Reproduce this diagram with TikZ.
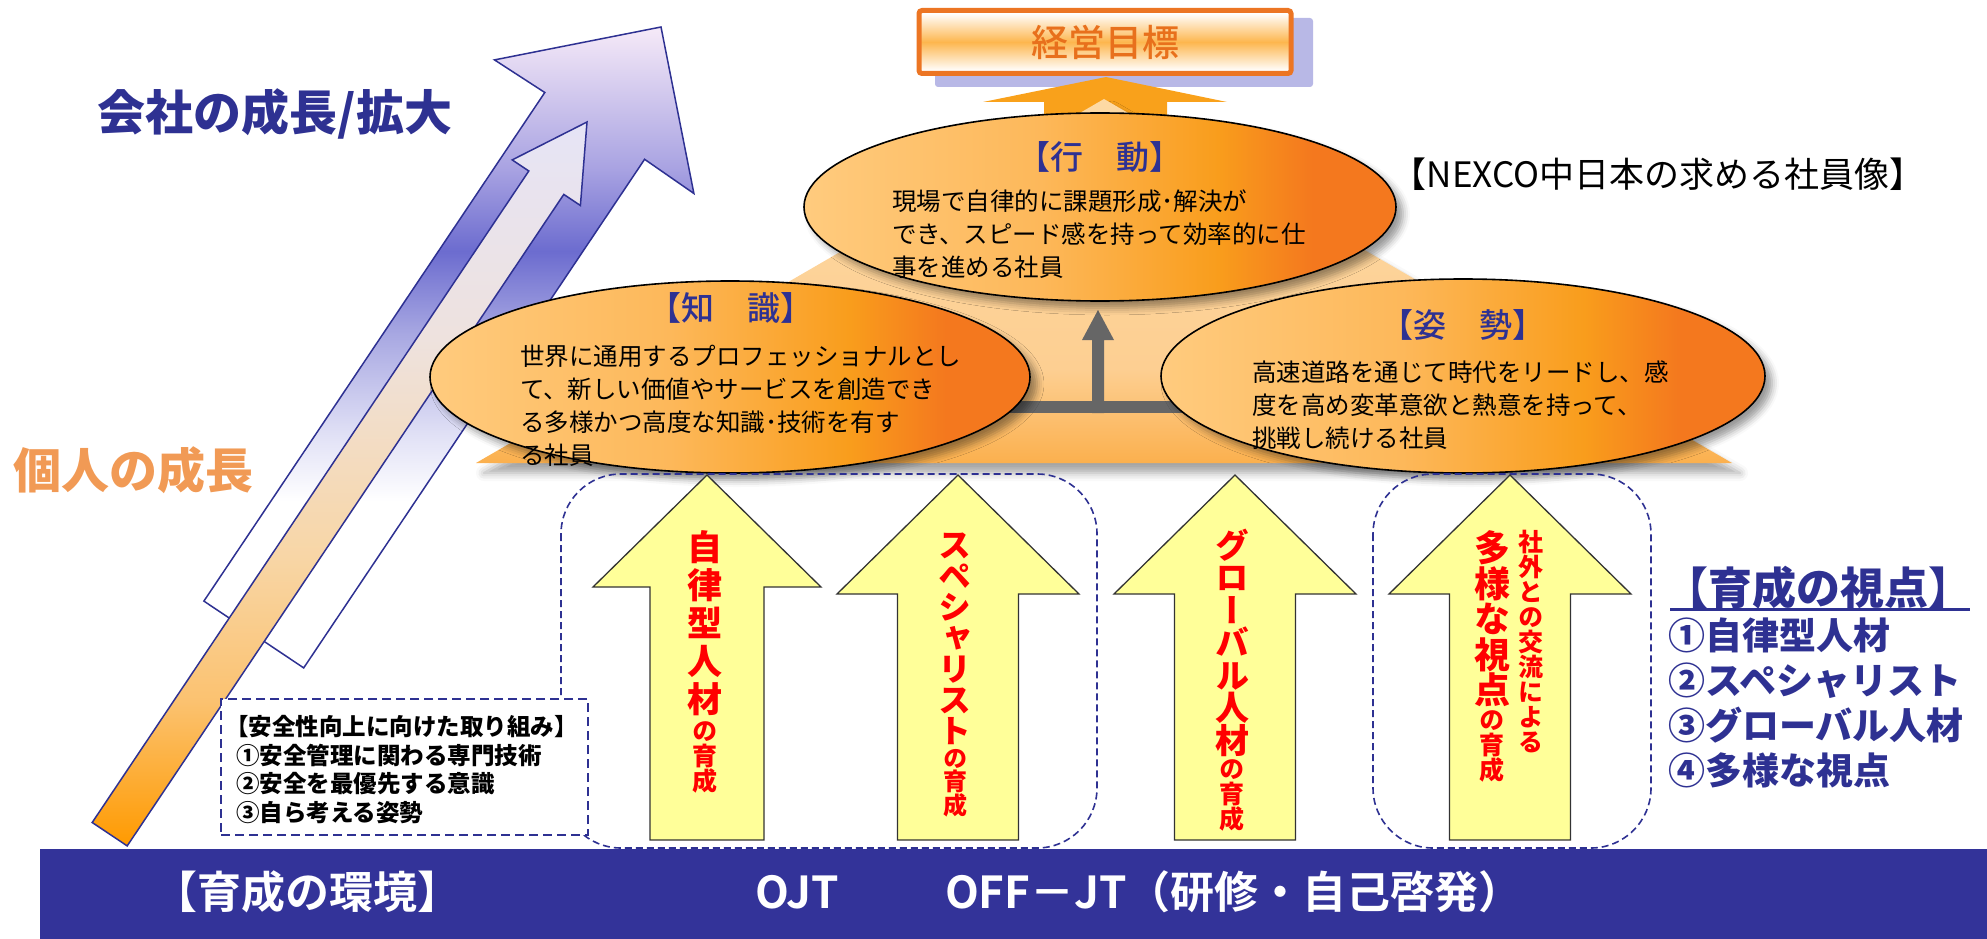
\documentclass[tikz,border=0pt]{standalone}
\usepackage{fontspec}
\newfontfamily\jp{Noto Sans CJK JP}
\newfontfamily\jpm{Noto Sans CJK JP Medium}
\newfontfamily\jpb{Noto Sans CJK JP Bold}
\newfontfamily\jpk{Noto Sans CJK JP Black}
\newfontfamily\jpkv{Noto Sans CJK JP Black}[RawFeature=+vert]
\usetikzlibrary{shapes.geometric,shadows.blur}

\definecolor{navy}{HTML}{2E3192}
\definecolor{barnavy}{HTML}{333399}
\definecolor{yel}{HTML}{FFFF99}
\definecolor{orgtxt}{HTML}{F19A55}
\definecolor{goalor}{HTML}{EC7523}
\definecolor{goaltxt}{HTML}{E8701C}
\definecolor{goalmid}{HTML}{FDB64E}
\definecolor{lav}{HTML}{B8B8E6}
\definecolor{arrowor}{HTML}{F9A11B}
\definecolor{eL}{HTML}{FFCB7E}
\definecolor{eL2}{HTML}{FDB85A}
\definecolor{eM}{HTML}{F99D1C}
\definecolor{eR}{HTML}{F4781E}
\definecolor{pyB}{HTML}{FBB04E}
\definecolor{pyM}{HTML}{FDCF92}
\definecolor{pyT}{HTML}{FDD9A4}
\definecolor{ba1}{HTML}{E2E2F6}
\definecolor{ba2}{HTML}{A8A8E2}
\definecolor{ba3}{HTML}{6C6CCF}
\definecolor{ba4}{HTML}{A9A3E2}
\definecolor{ba5}{HTML}{F6EAF8}
\definecolor{ia1}{HTML}{FF9A00}
\definecolor{ia2}{HTML}{FBC270}
\definecolor{ia3}{HTML}{F8D6A6}
\definecolor{ia4}{HTML}{EEE2DE}
\definecolor{ia5}{HTML}{E6E4F6}
\definecolor{tgray}{HTML}{666666}

\pgfdeclarehorizontalshading{ellsh}{100bp}{color(0bp)=(eL); color(25bp)=(eL); color(45bp)=(eL2); color(60bp)=(eM); color(68bp)=(eR); color(75bp)=(eR); color(100bp)=(eR)}
\pgfdeclareverticalshading{pyrsh}{100bp}{color(0bp)=(pyB); color(25bp)=(pyB); color(38bp)=(pyM); color(75bp)=(pyT); color(100bp)=(pyT)}
\pgfdeclareverticalshading{goalsh}{100bp}{color(0bp)=(white); color(27bp)=(white); color(50bp)=(goalmid); color(73bp)=(white); color(100bp)=(white)}
\pgfdeclareverticalshading{bigarr}{100bp}{color(0bp)=(white); color(38bp)=(white); color(43bp)=(ba1); color(51bp)=(ba2); color(57.5bp)=(ba3); color(64bp)=(ba4); color(75bp)=(ba5); color(100bp)=(ba5)}
\pgfdeclareverticalshading{innarr}{100bp}{color(0bp)=(ia1); color(25bp)=(ia1); color(35bp)=(ia2); color(45bp)=(ia3); color(60bp)=(ia4); color(75bp)=(ia5); color(100bp)=(ia5)}

\newcommand\vc[3]{\hbox to 0pt{\hss\vbox to #2pt{\vss\hbox{\fontsize{#1}{#1}\selectfont\vrule width0pt height.88em depth.12em\relax#3}\vss}\hss}}
\newcommand\vchars[3]{\def\vsz{#1}\def\vpt{#2}\vcloop#3\relax}
\def\vcloop#1{\ifx\relax#1\else\vc{\vsz}{\vpt}{#1}\expandafter\vcloop\fi}

\tikzset{
  ell/.style={ellipse, draw=black, line width=1.6pt, shade, shading=ellsh, inner sep=0pt,
    blur shadow={shadow xshift=7pt, shadow yshift=-7pt, shadow blur radius=7pt, shadow opacity=40}},
  hdr/.style={font=\jpm\fontsize{33}{33}\selectfont, text=navy, inner sep=0pt},
  body/.style={font=\jp\fontsize{24.5}{33}\selectfont, align=left, anchor=north west, inner sep=0pt},
  yarr/.style={fill=yel, draw=black!80, line width=1.3pt, line join=miter},
  vtxt/.style={text=red, inner sep=0pt, anchor=north},
  dbox/.style={draw=navy, dash pattern=on 7pt off 4pt, line width=1.6pt, rounded corners=60pt},
}
\newcommand\yarrow[6]{\draw[yarr] (#1,#2) -- ({#1+#5},#3) -- ({#1+#6},#3) -- ({#1+#6},#4) -- ({#1-#6},#4) -- ({#1-#6},#3) -- ({#1-#5},#3) -- cycle;}

\begin{document}
\begin{tikzpicture}[x=1pt,y=-1pt]
\useasboundingbox (0,0) rectangle (1987,939);

% goal box shadow and arrow
\fill[lav, rounded corners=3pt] (935,18) rectangle (1313,87);
\fill[arrowor] (1106,77) -- (1227,102) -- (1167,102) -- (1167,140) -- (1044,140) -- (1044,102) -- (983,102) -- cycle;

% pyramid
\path[shade, shading=pyrsh, blur shadow={shadow xshift=8pt, shadow yshift=-10pt, shadow blur radius=8pt, shadow opacity=35}]
  (476,463) -- (1104,99) -- (1732,463) -- cycle;

% gray T arrow
\fill[tgray] (900,401) rectangle (1300,413);
\fill[tgray] (1092,413) -- (1092,340) -- (1082,340) -- (1098,310) -- (1114,340) -- (1104,340) -- (1104,413) -- cycle;

% goal box
\node[draw=goalor, line width=5pt, rounded corners=3pt, shade, shading=goalsh, minimum width=372, minimum height=63, inner sep=0pt, text=goaltxt, font=\jpm\fontsize{37}{37}\selectfont] (goal) at (1105,42) {経営目標};

% diagonal arrows
\path[shade, shading=bigarr, draw=navy, line width=1.5pt, line join=miter]
  (661,27) -- (693.9,193.5) -- (644.6,159.3) -- (303.7,667.9) -- (203.9,601.1) -- (544.8,92.5) -- (494.5,59.9) -- cycle;
\path[shade, shading=innarr, draw=navy, line width=1.5pt, line join=miter]
  (587,122) -- (580.4,205.5) -- (563.8,194.4) -- (127.2,845.9) -- (92.2,822.5) -- (528.8,171) -- (512.2,159.9) -- cycle;

% ellipses
\node[ell, minimum width=592, minimum height=188] (kodo) at (1100,207) {};
\node[ell, minimum width=600, minimum height=192] (chishiki) at (730,377) {};
\node[ell, minimum width=604, minimum height=194] (shisei) at (1463,376) {};

\node[hdr] (kodoh) at (1100,157) {【行　動】};
\node[body] (kodob) at (892,190) {現場で自律的に課題形成･解決が\\でき、スピード感を持って効率的に仕\\事を進める社員};
\node[hdr] (chih) at (731,308) {【知　識】};
\node[body] (chib) at (520,345) {世界に通用するプロフェッショナルとし\\て、新しい価値やサービスを創造でき\\る多様かつ高度な知識･技術を有す\\る社員};
\node[hdr] (shih) at (1463,325) {【姿　勢】};
\node[body] (shib) at (1252,361) {高速道路を通じて時代をリードし、感\\度を高め変革意欲と熱意を持って、\\挑戦し続ける社員};

% dashed rounded boxes
\draw[dbox] (561,474) rectangle (1097,848);
\draw[dbox] (1373,474) rectangle (1651,848);

% safety box
\node[draw=navy, dash pattern=on 9pt off 5pt, line width=2.2pt, fill=white, minimum width=367, minimum height=136, inner sep=0pt, anchor=north west] (safe) at (220,698) {};
\node[anchor=west, align=left, inner sep=0pt, font=\jpk\fontsize{23.5}{28.5}\selectfont] (safetxt) at (236,769.5)
  {\hspace*{-11pt}【安全性向上に向けた取り組み】\\①安全管理に関わる専門技術\\②安全を最優先する意識\\③自ら考える姿勢};

% yellow arrows
\yarrow{707}{475}{587}{840}{114}{57}
\yarrow{958}{475}{594}{840}{121}{60.5}
\yarrow{1235}{475}{594}{840}{121}{60.5}
\yarrow{1510}{475}{594}{840}{121}{60.5}

\node[vtxt, font=\jpkv] (v1) at (705,528) {\vbox{\offinterlineskip\vchars{35}{38}{自律型人材}\vchars{25}{25}{の育成}}};
\node[vtxt, font=\jpkv] (v2) at (955,529) {\vbox{\offinterlineskip\vchars{33}{31}{スペシャリスト}\vchars{24}{23.5}{の育成}}};
\node[vtxt, font=\jpkv] (v3) at (1232,529) {\vbox{\offinterlineskip\vchars{34}{32.5}{グローバル人材}\vchars{25}{25}{の育成}}};
\node[vtxt, font=\jpkv] (v4a) at (1531,529) {\vbox{\offinterlineskip\vchars{25}{25}{社外との交流による}}};
\node[vtxt, font=\jpkv] (v4b) at (1492,530) {\vbox{\offinterlineskip\vchars{36}{35.5}{多様な視点}\vchars{25}{25}{の育成}}};

% bottom bar
\fill[barnavy] (40,849) rectangle (1987,939);
\node[text=white, font=\jpb\fontsize{44}{44}\selectfont, inner sep=0pt] (env) at (307,892) {【育成の環境】};
\node[text=white, font=\jpb\fontsize{44}{44}\selectfont, inner sep=0pt] (ojt) at (797,892) {OJT};
\node[text=white, font=\jpb\fontsize{44}{44}\selectfont, inner sep=0pt] (offjt) at (1234,892) {OFF－JT（研修・自己啓発）};

% left titles
\node[text=navy, font=\jpk\fontsize{48}{48}\selectfont, inner sep=0pt] (company) at (275,114) {会社の成長/拡大};
\node[text=orgtxt, font=\jpk\fontsize{48}{48}\selectfont, inner sep=0pt] (indiv) at (133,470) {個人の成長};

% right side
\node[font=\jp\fontsize{35}{35}\selectfont, inner sep=0pt] (title) at (1658,174) {【NEXCO中日本の求める社員像】};
\node[text=navy, font=\jpk\fontsize{44}{44}\selectfont, inner sep=0pt] (viewh) at (1818,588) {【育成の視点】};
\draw[navy, line width=3pt] (1670,609) -- (1970,609);
\node[text=navy, anchor=west, align=left, inner sep=0pt, font=\jpk\fontsize{37}{45}\selectfont] (viewl) at (1668,702.5) {①自律型人材\\②スペシャリスト\\③グローバル人材\\④多様な視点};

\end{tikzpicture}
\end{document}
